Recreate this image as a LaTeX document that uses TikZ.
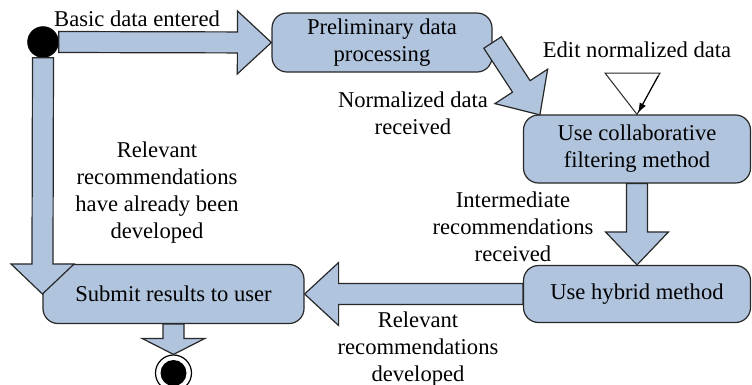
\documentclass[tikz,border=0pt]{standalone}
\usepackage{fontspec}
\setmainfont{Liberation Serif}
\usetikzlibrary{calc,arrows.meta}
\definecolor{boxfill}{RGB}{176,196,222}
\definecolor{edge}{RGB}{40,40,40}
\newcommand\fatarrow[3][33]{%
  \path let \p1=(#2), \p2=(#3), \n1={atan2(\y2-\y1,\x2-\x1)}, \n2={veclen(\x2-\x1,\y2-\y1)} in
    \pgfextra{\xdef\fatang{\n1}\xdef\fatlen{\n2}};
  \draw[fatstyle, shift={(#2)}, rotate=\fatang]
    (0pt,-10.5pt) -- ({\fatlen-#1pt},-10.5pt) -- ({\fatlen-#1pt},-31.5pt)
    -- (\fatlen,0pt) -- ({\fatlen-#1pt},31.5pt) -- ({\fatlen-#1pt},10.5pt)
    -- (0pt,10.5pt) -- cycle;
}
\begin{document}
\begin{tikzpicture}[x=1pt,y=-1pt,
  every node/.style={font=\fontsize{22.6}{27}\selectfont, text=black},
  actbox/.style={draw=edge, line width=1.2pt, fill=boxfill, rounded corners=15pt,
    align=center, inner sep=0pt},
  fatstyle/.style={draw=edge, line width=1.2pt, fill=boxfill, line join=miter},
  lab/.style={align=center, inner sep=0pt}]
\useasboundingbox (0,0) rectangle (752,384);
% activity boxes
\node[actbox, minimum width=220pt, minimum height=59pt] (prelim) at (382,42.5) {Preliminary data\\processing};
\node[actbox, minimum width=227pt, minimum height=68pt] (collab) at (637,149) {Use collaborative\\filtering method};
\node[actbox, minimum width=227pt, minimum height=57pt] (hybrid) at (637,294) {Use hybrid method};
\node[actbox, minimum width=261pt, minimum height=59pt] (submit) at (173.5,294) {Submit results to user};
% start / end
\node[circle, fill=black, draw=black, minimum size=31pt, inner sep=0pt] (start) at (43,42) {};
\node[circle, draw=black, line width=1.2pt, fill=white, minimum size=36pt, inner sep=0pt] (end) at (173.5,373) {};
\node[circle, fill=black, minimum size=26pt, inner sep=0pt] (endin) at (end.center) {};
% fat arrows
\fatarrow[34]{start.east}{prelim.west}
\coordinate (dtip) at (540,115);
\fatarrow[34]{prelim.east}{dtip}
\fatarrow[33]{collab.south}{hybrid.north}
\fatarrow[34]{hybrid.west}{submit.east}
\fatarrow[30]{start.south}{submit.west}
\fatarrow[16]{submit.south}{end.north}
% edit normalized data
\coordinate (tl) at (605,73);
\coordinate (tr) at (660,73);
\draw[draw=edge, line width=1pt, fill=white] (tl) -- (tr) -- (collab.north) -- cycle;
\coordinate (ea) at (658,76);
\coordinate (et) at (638,113);
\draw[black, line width=1pt, -{Latex[length=10pt,width=7pt]}] (ea) -- (et);
% labels
\node[lab] (l1) at (137,19) {Basic data entered};
\node[lab] (l2) at (637,50) {Edit normalized data};
\node[lab] (l3) at (413,113) {Normalized data\\received};
\node[lab] (l4) at (513,227) {Intermediate\\recommendations\\received};
\node[lab] (l5) at (157,193) {Relevant\\recommendations\\have already been\\developed};
\node[lab] (l6) at (418,349) {Relevant\\recommendations\\developed};
\end{tikzpicture}
\end{document}
